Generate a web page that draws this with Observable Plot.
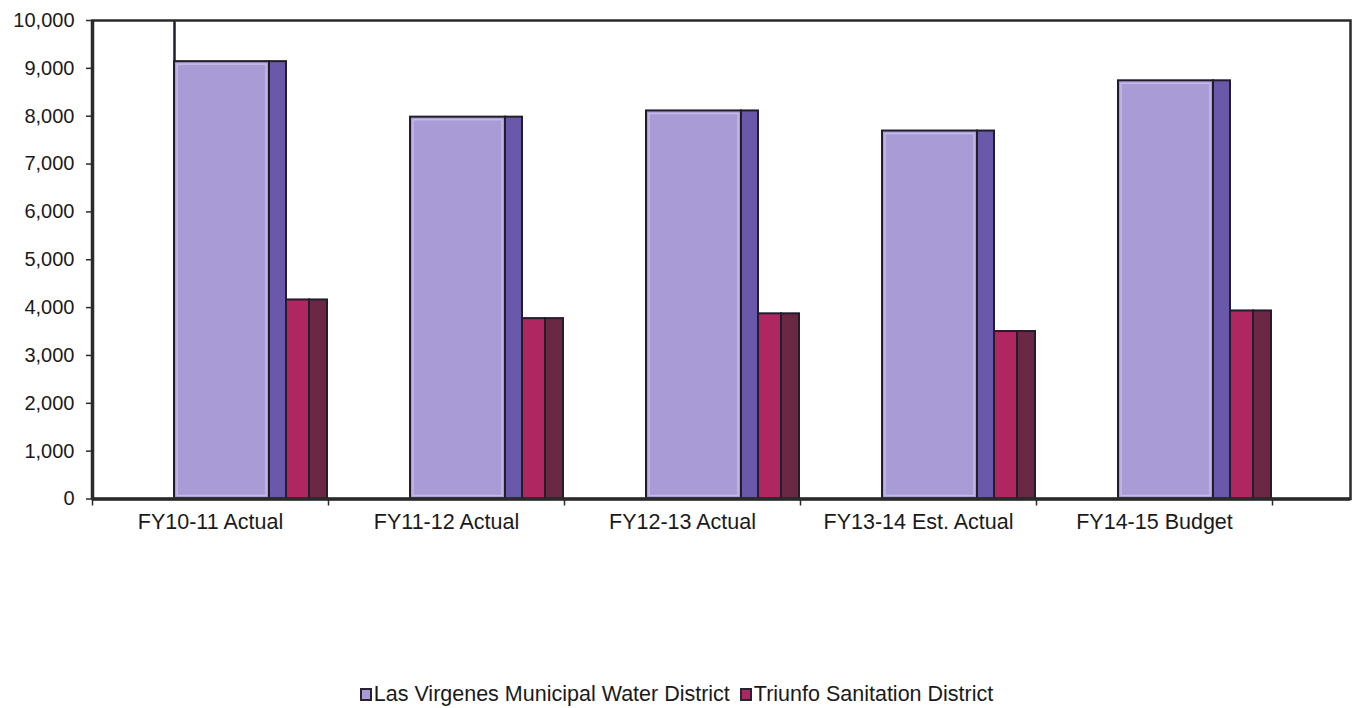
<!DOCTYPE html>
<html>
<head>
<meta charset="utf-8">
<script src="https://cdn.jsdelivr.net/npm/d3@7"></script>
<script src="https://cdn.jsdelivr.net/npm/@observablehq/plot@0.6"></script>
<style>
  html, body { margin: 0; padding: 0; background: #fff; }
  #chart { width: 1353px; height: 708px; position: relative; font-family: "Liberation Sans", Arial, sans-serif; }
  .legend { position: absolute; left: 0; width: 1353px; top: 682px; display: flex; justify-content: center; align-items: center; font-size: 21.5px; color: #1a1a1a; }
  .legend .item { display: flex; align-items: center; margin: 0 5px; }
  .legend .sw { width: 8px; height: 9px; border: 2px solid #2a2330; margin-right: 2px; }
</style>
</head>
<body>
<div id="chart"></div>
<script>
// Fiscal years on the category axis
const categories = ["FY10-11 Actual", "FY11-12 Actual", "FY12-13 Actual", "FY13-14 Est. Actual", "FY14-15 Budget"];
// Series values
const lasVirgenes = [9140, 7980, 8110, 7690, 8740];
const triunfo = [4160, 3770, 3870, 3500, 3930];
// Value-axis ticks
const yTicks = [0, 1000, 2000, 3000, 4000, 5000, 6000, 7000, 8000, 9000, 10000];
const seriesNames = ["Las Virgenes Municipal Water District", "Triunfo Sanitation District"];

const rows = categories.map((c, i) => ({category: c, lv: lasVirgenes[i], ts: triunfo[i]}));

const ink = "#231d2b";
const lvFront = "#a99bd6", lvSide = "#6a59aa";
const tsFront = "#b02660", tsSide = "#6b2845";

const chart = Plot.plot({
  width: 1353,
  height: 560,
  marginLeft: 92,
  marginRight: 3,
  marginTop: 20,
  marginBottom: 61.5,
  style: {fontFamily: "'Liberation Sans', Arial, sans-serif", fontSize: "20px", color: "#1a1a1a", background: "#fff"},
  x: {type: "band", domain: categories, range: [92, 1272], padding: 0, label: null},
  y: {domain: [0, 10000], label: null},
  marks: [
    // Las Virgenes: front face and shaded side face
    Plot.barY(rows, {x: "category", y: "lv", fill: lvFront, stroke: ink, strokeWidth: 2, insetLeft: 82, insetRight: 59}),
    Plot.barY(rows, {x: "category", y: "lv", fill: "none", stroke: "#c4bbe6", strokeWidth: 1.5, insetLeft: 85, insetRight: 62, insetTop: 3, insetBottom: 3}),
    Plot.barY(rows, {x: "category", y: "lv", fill: lvSide, stroke: ink, strokeWidth: 2, insetLeft: 177, insetRight: 42}),
    // Triunfo: front face and shaded side face
    Plot.barY(rows, {x: "category", y: "ts", fill: tsFront, stroke: ink, strokeWidth: 2, insetLeft: 194, insetRight: 19}),
    Plot.barY(rows, {x: "category", y: "ts", fill: tsSide, stroke: ink, strokeWidth: 2, insetLeft: 217, insetRight: 1}),
    // edge line rising from the first bar to the back wall
    Plot.ruleX([rows[0]], {x: "category", y1: "lv", y2: 10000, dx: -36, stroke: ink, strokeWidth: 2.5}),
    // plot area border
    Plot.frame({stroke: "#2a2a2a", strokeWidth: 2.5}),
    Plot.ruleY([0], {stroke: "#2a2a2a", strokeWidth: 3.5}),
    Plot.ruleX([0], {x: () => categories[0], dx: -118, y1: 0, y2: 10000, stroke: "#2a2a2a", strokeWidth: 3.5}),
    // value axis
    Plot.axisY(yTicks, {tickSize: 6, tickPadding: 12, tickFormat: d3.format(","), stroke: "#2a2a2a", strokeWidth: 1.5, fontSize: 20, label: null}),
    // category boundary ticks
    Plot.axisX({tickSize: 7, tickFormat: () => "", dx: -118, stroke: "#2a2a2a", strokeWidth: 1.5, label: null}),
    Plot.axisX([categories[categories.length - 1]], {tickSize: 7, tickFormat: () => "", dx: 118, stroke: "#2a2a2a", strokeWidth: 1.5, label: null}),
    // category labels
    Plot.axisX({tickSize: 0, tickPadding: 15, fontSize: 21.5, label: null})
  ]
});
document.getElementById("chart").appendChild(chart);

// legend below the plot
const legend = document.createElement("div");
legend.className = "legend";
const fills = [lvFront, tsFront];
seriesNames.forEach((name, i) => {
  const item = document.createElement("div");
  item.className = "item";
  const sw = document.createElement("span");
  sw.className = "sw";
  sw.style.background = fills[i];
  const label = document.createElement("span");
  label.textContent = name;
  item.appendChild(sw);
  item.appendChild(label);
  legend.appendChild(item);
});
document.getElementById("chart").appendChild(legend);
</script>
</body>
</html>
